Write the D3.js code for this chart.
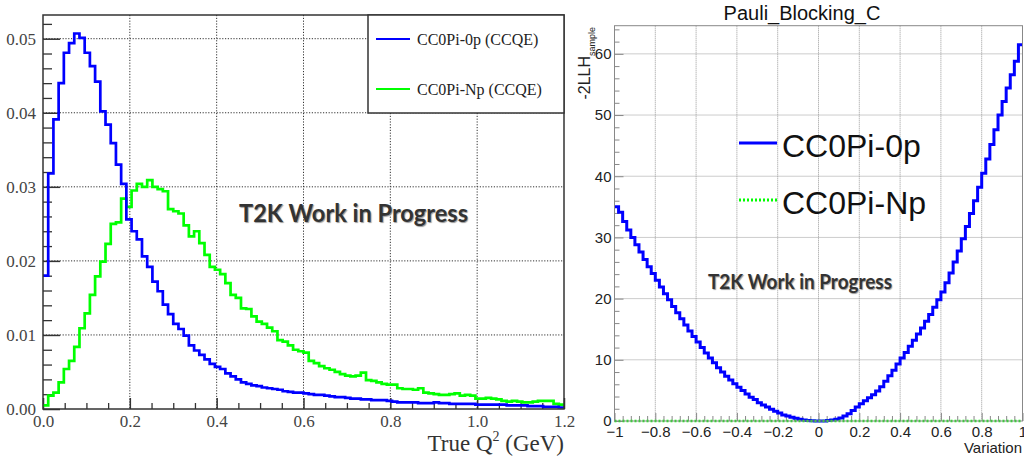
<!DOCTYPE html>
<html>
<head>
<meta charset="utf-8">
<script src="https://cdn.jsdelivr.net/npm/d3@7"></script>
<style>
  body { margin: 0; background: #fff; }
  svg { display: block; }
</style>
</head>
<body>
<svg id="viz" width="1024" height="462"></svg>
<script>
// left: true Q2 distributions, 100 bins from 0 to 1.2 GeV
var q2Range = [0, 1.2];
var q2Bins = 100;
var cc0p = [
  0.0180, 0.0318, 0.0391, 0.0440, 0.0481, 0.0494, 0.0507, 0.0501, 0.0481, 0.0463,
  0.0442, 0.0402, 0.0384, 0.0359, 0.0330, 0.0304, 0.0256, 0.0240, 0.0229, 0.0206,
  0.0192, 0.0172, 0.0159, 0.0141, 0.0128, 0.0115, 0.0108, 0.0099, 0.0086, 0.0079,
  0.0073, 0.0067, 0.0061, 0.0057, 0.0054, 0.0048, 0.0044, 0.0040, 0.0036, 0.0034,
  0.0032, 0.0031, 0.0029, 0.0028, 0.0027, 0.0026, 0.0024, 0.0023, 0.0022, 0.0022,
  0.0021, 0.0020, 0.0019, 0.0019, 0.0018, 0.0017, 0.0016, 0.0016, 0.0015, 0.0014,
  0.0014, 0.0013, 0.0013, 0.0012, 0.0012, 0.0012, 0.0011, 0.0010, 0.0009, 0.0009,
  0.0009, 0.0009, 0.0008, 0.0008, 0.0008, 0.0009, 0.0008, 0.0008, 0.0007, 0.0007,
  0.0007, 0.0007, 0.0007, 0.0006, 0.0006, 0.0006, 0.0006, 0.0006, 0.0006, 0.0005,
  0.0005, 0.0005, 0.0005, 0.0004, 0.0004, 0.0004, 0.0003, 0.0003, 0.0003, 0.0002
];
var cc0Np = [
  0.0005, 0.0018, 0.0022, 0.0036, 0.0054, 0.0065, 0.0084, 0.0109, 0.0129, 0.0154,
  0.0179, 0.0199, 0.0223, 0.0250, 0.0252, 0.0284, 0.0273, 0.0295, 0.0304, 0.0300,
  0.0309, 0.0300, 0.0297, 0.0294, 0.0270, 0.0267, 0.0264, 0.0248, 0.0233, 0.0240,
  0.0224, 0.0208, 0.0192, 0.0188, 0.0182, 0.0170, 0.0154, 0.0150, 0.0136, 0.0135,
  0.0125, 0.0118, 0.0115, 0.0110, 0.0105, 0.0093, 0.0091, 0.0086, 0.0080, 0.0078,
  0.0076, 0.0065, 0.0062, 0.0058, 0.0055, 0.0053, 0.0050, 0.0047, 0.0045, 0.0044,
  0.0045, 0.0049, 0.0039, 0.0038, 0.0036, 0.0034, 0.0033, 0.0033, 0.0028, 0.0027,
  0.0027, 0.0026, 0.0028, 0.0022, 0.0021, 0.0020, 0.0019, 0.0019, 0.0020, 0.0021,
  0.0018, 0.0019, 0.0018, 0.0014, 0.0014, 0.0015, 0.0014, 0.0013, 0.0011, 0.0010,
  0.0011, 0.0010, 0.0009, 0.0009, 0.0010, 0.0011, 0.0011, 0.0011, 0.0007, 0.0006
];
var q2Ticks = [0, 0.2, 0.4, 0.6, 0.8, 1.0, 1.2];
var xsecTicks = [0, 0.01, 0.02, 0.03, 0.04, 0.05];
var leftLegend = ["CC0Pi-0p (CCQE)", "CC0Pi-Np (CCQE)"];

// right: -2LLH scan over Pauli blocking variation, 100 bins from -1 to 1
var varRange = [-1, 1];
var varBins = 100;
var llh0p = [
  35.0, 34.1, 32.6, 31.2, 30.0, 28.8, 27.6, 26.4, 25.2, 24.1,
  23.0, 21.9, 20.8, 19.8, 18.7, 17.7, 16.7, 15.7, 14.7, 13.8,
  12.9, 12.0, 11.1, 10.3, 9.5, 8.7, 8.0, 7.3, 6.7, 6.1,
  5.5, 5.0, 4.4, 3.9, 3.5, 3.0, 2.6, 2.3, 1.9, 1.6,
  1.3, 1.0, 0.8, 0.6, 0.45, 0.3, 0.18, 0.1, 0.04, 0.0,
  0.0, 0.02, 0.08, 0.15, 0.3, 0.5, 0.8, 1.2, 1.7, 2.3,
  2.8, 3.3, 3.8, 4.3, 4.9, 5.6, 6.5, 7.4, 8.3, 9.3,
  10.3, 11.2, 12.2, 13.2, 14.2, 15.2, 16.3, 17.4, 18.6, 19.8,
  21.1, 22.6, 24.2, 26.0, 27.8, 29.8, 31.8, 33.9, 36.0, 38.2,
  40.5, 42.8, 45.2, 47.6, 50.0, 52.2, 54.4, 56.6, 58.8, 61.5
];
var llhNp = [
  0, 0, 0, 0, 0, 0, 0, 0, 0, 0,
  0, 0, 0, 0, 0, 0, 0, 0, 0, 0,
  0, 0, 0, 0, 0, 0, 0, 0, 0, 0,
  0, 0, 0, 0, 0, 0, 0, 0, 0, 0,
  0, 0, 0, 0, 0, 0, 0, 0, 0, 0,
  0, 0, 0, 0, 0, 0, 0, 0, 0, 0,
  0, 0, 0, 0, 0, 0, 0, 0, 0, 0,
  0, 0, 0, 0, 0, 0, 0, 0, 0, 0,
  0, 0, 0, 0, 0, 0, 0, 0, 0, 0,
  0, 0, 0, 0, 0, 0, 0, 0, 0, 0
];
var varTicks = [-1, -0.8, -0.6, -0.4, -0.2, 0, 0.2, 0.4, 0.6, 0.8, 1];
var llhTicks = [0, 10, 20, 30, 40, 50, 60];
var rightLegend = ["CC0Pi-0p", "CC0Pi-Np"];

var BLUE = "#0000ff", GREEN = "#00ff00";
var svg = d3.select("#viz");
svg.append("rect").attr("width", 1024).attr("height", 462).attr("fill", "#fff");

// turn bin contents into step points (left edge of each bin + final edge)
function steps(values, range, n) {
  var w = (range[1] - range[0]) / n;
  var pts = values.map(function (v, i) { return [range[0] + i * w, v]; });
  pts.push([range[1], values[values.length - 1]]);
  return pts;
}

function minorTicks(major, div) {
  var out = [];
  for (var i = 0; i < major.length - 1; i++) {
    var step = (major[i + 1] - major[i]) / div;
    for (var j = 1; j < div; j++) out.push(major[i] + j * step);
  }
  return out;
}

/* ---------- left panel ---------- */
var xL = d3.scaleLinear().domain(q2Range).range([43, 564]);
var yL = d3.scaleLinear().domain([0, 0.0532]).range([409, 15]);
var gL = svg.append("g");
var serif = "Liberation Serif, Times New Roman, serif";

// grid
gL.selectAll(".gx").data(q2Ticks.slice(1, -1)).enter().append("line")
  .attr("x1", function (d) { return xL(d); }).attr("x2", function (d) { return xL(d); })
  .attr("y1", 15).attr("y2", 409)
  .attr("stroke", "#333").attr("stroke-width", 1).attr("stroke-dasharray", "1.2,1.6");
gL.selectAll(".gy").data(xsecTicks.slice(1)).enter().append("line")
  .attr("x1", 43).attr("x2", 564)
  .attr("y1", function (d) { return yL(d); }).attr("y2", function (d) { return yL(d); })
  .attr("stroke", "#333").attr("stroke-width", 1).attr("stroke-dasharray", "1.2,1.6");

// y axis
var yMinorL = minorTicks(xsecTicks.concat([0.06]), 5).filter(function (d) { return d < 0.053; });
gL.append("g").attr("transform", "translate(43,0)")
  .call(d3.axisLeft(yL).tickValues(yMinorL).tickSize(-9).tickFormat(""))
  .call(function (g) { g.select(".domain").remove(); g.selectAll("line").attr("stroke", "#333").attr("stroke-width", 1.3); });
gL.append("g").attr("transform", "translate(43,0)")
  .call(d3.axisLeft(yL).tickValues(xsecTicks).tickSizeInner(-17).tickSizeOuter(0).tickPadding(7).tickFormat(d3.format(".2f")))
  .call(function (g) {
    g.select(".domain").remove();
    g.selectAll("line").attr("stroke", "#333").attr("stroke-width", 1.5);
    g.selectAll("text").attr("font-family", serif).attr("font-size", 17).attr("fill", "#444");
  });

// x axis
var xMinorL = minorTicks(q2Ticks, 4);
gL.append("g").attr("transform", "translate(0,409)")
  .call(d3.axisBottom(xL).tickValues(xMinorL).tickSize(-6).tickFormat(""))
  .call(function (g) { g.select(".domain").remove(); g.selectAll("line").attr("stroke", "#333").attr("stroke-width", 1.3); });
gL.append("g").attr("transform", "translate(0,409)")
  .call(d3.axisBottom(xL).tickValues(q2Ticks).tickSizeInner(-11).tickSizeOuter(0).tickPadding(6).tickFormat(d3.format(".1f")))
  .call(function (g) {
    g.select(".domain").remove();
    g.selectAll("line").attr("stroke", "#333").attr("stroke-width", 1.5);
    g.selectAll("text").attr("font-family", serif).attr("font-size", 17).attr("fill", "#444");
  });

// histograms
var stepLineL = d3.line()
  .x(function (d) { return xL(d[0]); })
  .y(function (d) { return yL(d[1]); })
  .curve(d3.curveStepAfter);
gL.append("path").datum(steps(cc0Np, q2Range, q2Bins)).attr("d", stepLineL)
  .attr("fill", "none").attr("stroke", GREEN).attr("stroke-width", 2.7);
gL.append("path").datum(steps(cc0p, q2Range, q2Bins)).attr("d", stepLineL)
  .attr("fill", "none").attr("stroke", BLUE).attr("stroke-width", 2.7);

// frame
gL.append("rect").attr("x", 43).attr("y", 15).attr("width", 521).attr("height", 394)
  .attr("fill", "none").attr("stroke", "#333").attr("stroke-width", 1.5);

// legend
gL.append("rect").attr("x", 368).attr("y", 15).attr("width", 196).attr("height", 98)
  .attr("fill", "#fff").attr("stroke", "#333").attr("stroke-width", 1.5);
leftLegend.forEach(function (name, i) {
  var y = 39 + i * 50;
  gL.append("line").attr("x1", 376).attr("x2", 410).attr("y1", y).attr("y2", y)
    .attr("stroke", i === 0 ? BLUE : GREEN).attr("stroke-width", 2);
  gL.append("text").attr("x", 417).attr("y", y + 6).text(name)
    .attr("font-family", serif).attr("font-size", 16).attr("fill", "#222");
});

// axis title
var tL = gL.append("text").attr("x", 564).attr("y", 451).attr("text-anchor", "end")
  .attr("font-family", serif).attr("font-size", 23).attr("fill", "#333");
tL.append("tspan").text("True Q");
tL.append("tspan").attr("font-size", 14).attr("dy", -10).text("2");
tL.append("tspan").attr("dy", 10).text(" (GeV)");

// watermark
gL.append("text").attr("x", 239).attr("y", 222).text("T2K Work in Progress")
  .attr("font-family", "Lato, Open Sans, sans-serif").attr("font-weight", "bold").attr("font-size", 25)
  .attr("textLength", 229).attr("lengthAdjust", "spacingAndGlyphs")
  .attr("fill", "#333").style("text-shadow", "1px 1px 1px #999");

/* ---------- right panel ---------- */
var xR = d3.scaleLinear().domain(varRange).range([614.5, 1022.5]);
var yR = d3.scaleLinear().domain([0, 64.6]).range([421, 25.7]);
var gR = svg.append("g");
var sans = "Liberation Sans, Arial, sans-serif";

gR.append("rect").attr("x", 614.5).attr("y", 25.7).attr("width", 408).attr("height", 395.3).attr("fill", "#fff");

gR.selectAll(".gx").data(varTicks.slice(1, -1)).enter().append("line")
  .attr("x1", function (d) { return xR(d); }).attr("x2", function (d) { return xR(d); })
  .attr("y1", 25.7).attr("y2", 421)
  .attr("stroke", "#999").attr("stroke-width", 1).attr("stroke-dasharray", "1,1");
gR.selectAll(".gy").data(llhTicks.slice(1)).enter().append("line")
  .attr("x1", 614.5).attr("x2", 1022.5)
  .attr("y1", function (d) { return yR(d); }).attr("y2", function (d) { return yR(d); })
  .attr("stroke", "#999").attr("stroke-width", 1).attr("stroke-dasharray", "1,1");

var yMinorR = minorTicks(llhTicks.concat([70]), 5).filter(function (d) { return d < 64.6; });
gR.append("g").attr("transform", "translate(614.5,0)")
  .call(d3.axisLeft(yR).tickValues(yMinorR).tickSize(-5).tickFormat(""))
  .call(function (g) { g.select(".domain").remove(); g.selectAll("line").attr("stroke", "#888"); });
gR.append("g").attr("transform", "translate(614.5,0)")
  .call(d3.axisLeft(yR).tickValues(llhTicks).tickSizeInner(-9).tickSizeOuter(0).tickPadding(3))
  .call(function (g) {
    g.select(".domain").remove();
    g.selectAll("line").attr("stroke", "#888");
    g.selectAll("text").attr("font-family", sans).attr("font-size", 15).attr("fill", "#222");
  });

var xMinorR = minorTicks(varTicks, 5);
gR.append("g").attr("transform", "translate(0,421)")
  .call(d3.axisBottom(xR).tickValues(xMinorR).tickSize(-5).tickFormat(""))
  .call(function (g) { g.select(".domain").remove(); g.selectAll("line").attr("stroke", "#888"); });
gR.append("g").attr("transform", "translate(0,421)")
  .call(d3.axisBottom(xR).tickValues(varTicks).tickSizeInner(-8).tickSizeOuter(0).tickPadding(5).tickFormat(d3.format("~g")))
  .call(function (g) {
    g.select(".domain").remove();
    g.selectAll("line").attr("stroke", "#888");
    g.selectAll("text").attr("font-family", sans).attr("font-size", 15).attr("fill", "#222");
  });

var stepLineR = d3.line()
  .x(function (d) { return xR(d[0]); })
  .y(function (d) { return yR(d[1]); })
  .curve(d3.curveStepAfter);
gR.append("path").datum(steps(llh0p, varRange, varBins)).attr("d", stepLineR)
  .attr("fill", "none").attr("stroke", BLUE).attr("stroke-width", 3);
gR.append("path").datum(steps(llhNp, varRange, varBins)).attr("d", stepLineR)
  .attr("fill", "none").attr("stroke", GREEN).attr("stroke-width", 2.5).attr("stroke-dasharray", "2,2");

gR.append("rect").attr("x", 614.5).attr("y", 25.7).attr("width", 408).attr("height", 395.3)
  .attr("fill", "none").attr("stroke", "#888").attr("stroke-width", 1);

// title
gR.append("text").attr("x", 802).attr("y", 20).attr("text-anchor", "middle").text("Pauli_Blocking_C")
  .attr("font-family", sans).attr("font-size", 20).attr("fill", "#111");

// y title with subscript
var tY = gR.append("text").attr("transform", "translate(590,27) rotate(-90)").attr("text-anchor", "end")
  .attr("font-family", sans).attr("fill", "#222");
tY.append("tspan").attr("font-size", 16).text("-2LLH");
tY.append("tspan").attr("font-size", 9).attr("dy", 5).text("sample");

gR.append("text").attr("x", 1022).attr("y", 453).attr("text-anchor", "end").text("Variation")
  .attr("font-family", sans).attr("font-size", 15).attr("fill", "#222");

// legend
rightLegend.forEach(function (name, i) {
  var y = 143 + i * 57;
  gR.append("line").attr("x1", 739).attr("x2", 777).attr("y1", y).attr("y2", y)
    .attr("stroke", i === 0 ? BLUE : GREEN).attr("stroke-width", 3)
    .attr("stroke-dasharray", i === 0 ? null : "2,2");
  gR.append("text").attr("x", 782).attr("y", y + 13.5).text(name)
    .attr("font-family", sans).attr("font-size", 32).attr("fill", "#111");
});

gR.append("text").attr("x", 708).attr("y", 289).text("T2K Work in Progress")
  .attr("font-family", "Lato, Open Sans, sans-serif").attr("font-weight", "bold").attr("font-size", 21)
  .attr("textLength", 184).attr("lengthAdjust", "spacingAndGlyphs")
  .attr("fill", "#333").style("text-shadow", "1px 1px 1px #999");
</script>
</body>
</html>
